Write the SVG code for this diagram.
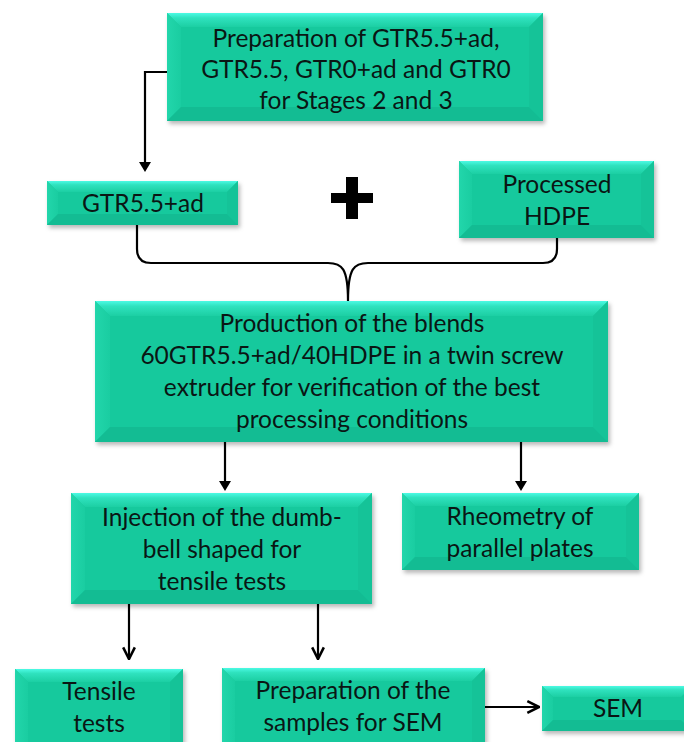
<svg xmlns="http://www.w3.org/2000/svg" width="684" height="742" viewBox="0 0 684 742">
<style>
  .base { fill: #16c99d; }
  .bt { fill: url(#gTop); }
  .bl { fill: url(#gLeft); }
  .br { fill: #15c398; }
  .bb { fill: #13bc93; }
  .lbl { font-family: Lato, "Open Sans", "DejaVu Sans", sans-serif; font-size: 24.5px; fill: #0a1614; text-anchor: middle; }
  .ln { fill: none; stroke: #000; stroke-width: 2.2; }
</style>
<defs>
  <linearGradient id="gTop" x1="0" y1="0" x2="0" y2="1">
    <stop offset="0" stop-color="#4cfae4"/>
    <stop offset="0.35" stop-color="#2fe2be"/>
    <stop offset="1" stop-color="#1ccfa3"/>
  </linearGradient>
  <linearGradient id="gLeft" x1="0" y1="0" x2="1" y2="0">
    <stop offset="0" stop-color="#22d6ab"/>
    <stop offset="1" stop-color="#1acda1"/>
  </linearGradient>
  <filter id="sh" x="-5%" y="-5%" width="115%" height="125%">
    <feDropShadow dx="2" dy="3" stdDeviation="2" flood-color="#000" flood-opacity="0.28"/>
  </filter>
  <marker id="aOpen" viewBox="0 0 12 12" refX="11" refY="6" markerWidth="14" markerHeight="14" markerUnits="userSpaceOnUse" orient="auto">
    <path d="M1,1 L11,6 L1,11" fill="none" stroke="#000" stroke-width="2.2"/>
  </marker>
</defs>

<g id="connectors">
  <path class="ln" d="M167,72 H145 V162"/>
  <path d="M139,162 L151,162 L145,172 Z" fill="#000"/>
  <path class="ln" d="M137,225 V249 Q137,263 151,263 H328 C342,263 348,268 348,301 C348,268 354,263 368,263 H543 Q557,263 557,249 V238"/>
  <path class="ln" d="M225,442 V482"/>
  <path d="M219,481 L231,481 L225,491 Z" fill="#000"/>
  <path class="ln" d="M521,442 V482"/>
  <path d="M515,481 L527,481 L521,491 Z" fill="#000"/>
  <path class="ln" d="M129,604 V659" marker-end="url(#aOpen)"/>
  <path class="ln" d="M318,604 V659" marker-end="url(#aOpen)"/>
  <path class="ln" d="M485,707 H539" marker-end="url(#aOpen)"/>
</g>

<g id="plus">
  <rect x="346" y="177" width="12" height="42" fill="#000"/>
  <rect x="331" y="193" width="42" height="10" fill="#000"/>
</g>

<g id="n-prep-top">
  <rect class="base" x="167" y="13" width="376" height="108" filter="url(#sh)"/>
  <polygon class="bt" points="167,13 543,13 529,27 181,27"/>
  <polygon class="bl" points="167,13 181,27 181,107 167,121"/>
  <polygon class="br" points="543,13 543,121 529,107 529,27"/>
  <polygon class="bb" points="167,121 181,107 529,107 543,121"/>
  <text class="lbl" x="356" y="47">Preparation of GTR5.5+ad,</text>
  <text class="lbl" x="356" y="78">GTR5.5, GTR0+ad and GTR0</text>
  <text class="lbl" x="356" y="109">for Stages 2 and 3</text>
</g>

<g id="n-gtr">
  <rect class="base" x="47" y="181" width="191" height="44" filter="url(#sh)"/>
  <polygon class="bt" points="47,181 238,181 227,192 58,192"/>
  <polygon class="bl" points="47,181 58,192 58,214 47,225"/>
  <polygon class="br" points="238,181 238,225 227,214 227,192"/>
  <polygon class="bb" points="47,225 58,214 227,214 238,225"/>
  <text class="lbl" x="143" y="212">GTR5.5+ad</text>
</g>

<g id="n-hdpe">
  <rect class="base" x="459" y="161" width="195" height="77" filter="url(#sh)"/>
  <polygon class="bt" points="459,161 654,161 641,174 472,174"/>
  <polygon class="bl" points="459,161 472,174 472,225 459,238"/>
  <polygon class="br" points="654,161 654,238 641,225 641,174"/>
  <polygon class="bb" points="459,238 472,225 641,225 654,238"/>
  <text class="lbl" x="557" y="193">Processed</text>
  <text class="lbl" x="557" y="225">HDPE</text>
</g>

<g id="n-production">
  <rect class="base" x="95" y="301" width="513" height="141" filter="url(#sh)"/>
  <polygon class="bt" points="95,301 608,301 593,316 110,316"/>
  <polygon class="bl" points="95,301 110,316 110,427 95,442"/>
  <polygon class="br" points="608,301 608,442 593,427 593,316"/>
  <polygon class="bb" points="95,442 110,427 593,427 608,442"/>
  <text class="lbl" x="352" y="332">Production of the blends</text>
  <text class="lbl" x="352" y="364">60GTR5.5+ad/40HDPE in a twin screw</text>
  <text class="lbl" x="352" y="396">extruder for verification of the best</text>
  <text class="lbl" x="352" y="428">processing conditions</text>
</g>

<g id="n-injection">
  <rect class="base" x="71" y="493" width="301" height="111" filter="url(#sh)"/>
  <polygon class="bt" points="71,493 372,493 358,507 85,507"/>
  <polygon class="bl" points="71,493 85,507 85,590 71,604"/>
  <polygon class="br" points="372,493 372,604 358,590 358,507"/>
  <polygon class="bb" points="71,604 85,590 358,590 372,604"/>
  <text class="lbl" x="222" y="526">Injection of the dumb-</text>
  <text class="lbl" x="222" y="558">bell shaped for</text>
  <text class="lbl" x="222" y="590">tensile tests</text>
</g>

<g id="n-rheometry">
  <rect class="base" x="402" y="493" width="237" height="77" filter="url(#sh)"/>
  <polygon class="bt" points="402,493 639,493 626,506 415,506"/>
  <polygon class="bl" points="402,493 415,506 415,557 402,570"/>
  <polygon class="br" points="639,493 639,570 626,557 626,506"/>
  <polygon class="bb" points="402,570 415,557 626,557 639,570"/>
  <text class="lbl" x="520" y="525">Rheometry of</text>
  <text class="lbl" x="520" y="557">parallel plates</text>
</g>

<g id="n-tensile">
  <rect class="base" x="15" y="669" width="168" height="95" filter="url(#sh)"/>
  <polygon class="bt" points="15,669 183,669 170,682 28,682"/>
  <polygon class="bl" points="15,669 28,682 28,751 15,764"/>
  <polygon class="br" points="183,669 183,764 170,751 170,682"/>
  <text class="lbl" x="99" y="700">Tensile</text>
  <text class="lbl" x="99" y="732">tests</text>
</g>

<g id="n-prep-sem">
  <rect class="base" x="222" y="668" width="263" height="95" filter="url(#sh)"/>
  <polygon class="bt" points="222,668 485,668 472,681 235,681"/>
  <polygon class="bl" points="222,668 235,681 235,750 222,763"/>
  <polygon class="br" points="485,668 485,763 472,750 472,681"/>
  <text class="lbl" x="353" y="699">Preparation of the</text>
  <text class="lbl" x="353" y="731">samples for SEM</text>
</g>

<g id="n-sem">
  <rect class="base" x="542" y="686" width="150" height="45" filter="url(#sh)"/>
  <polygon class="bt" points="542,686 692,686 681,697 553,697"/>
  <polygon class="bl" points="542,686 553,697 553,720 542,731"/>
  <polygon class="bb" points="542,731 553,720 681,720 692,731"/>
  <text class="lbl" x="618" y="717">SEM</text>
</g>
</svg>
